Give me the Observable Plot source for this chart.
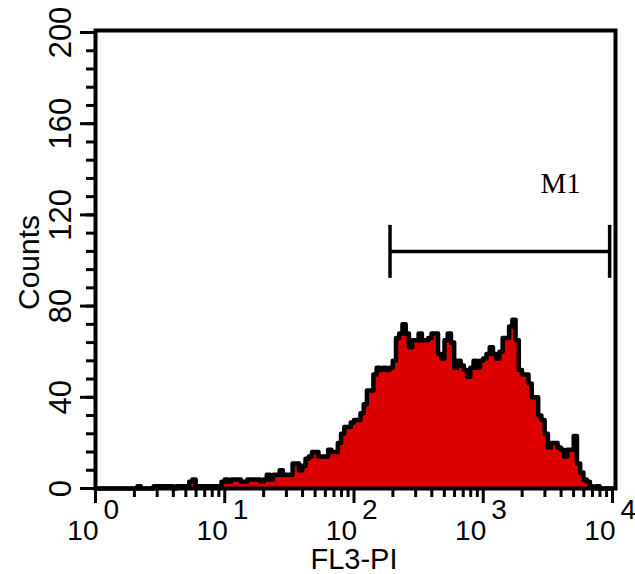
<!DOCTYPE html>
<html>
<head>
<meta charset="utf-8">
<script src="https://cdn.jsdelivr.net/npm/d3@7"></script>
<script src="https://cdn.jsdelivr.net/npm/@observablehq/plot@0.6"></script>
<style>
  html, body { margin: 0; padding: 0; background: #fff; }
  svg { display: block; }
</style>
</head>
<body>
<div id="chart"></div>
<script>
// ---- data ----
const binsPerDecade = 40; // histogram channels per decade (log display)
const counts = [
  0,0,0,0,0,0,0,0,0,0,0,0,0,
  1,
  0,0,0,0,
  1,1,1,1,1,1,
  0,
  1,1,1,1,
  3,4,
  1,1,1,1,1,1,1,1,
  3,4,3,
  4,4,4,
  3,3,
  4,4,4,4,
  3,4,6,4,
  6,6,8,
  6,6,6,
  11,11,8,10,13,14,
  16,16,14,14,14,
  17,16,16,20,24,
  27,27,29,30,30,
  33,37,43,43,50,
  53,52,53,52,53,56,
  66,68,72,68,62,
  65,65,68,65,65,
  66,68,68,59,57,
  65,68,64,53,56,
  54,52,49,53,56,
  53,56,57,59,62,
  59,57,60,66,66,
  71,74,65,52,50,
  50,46,40,40,32,
  30,24,18,20,20,
  18,17,14,17,17,
  23,11,7,4,3,
  1,0,1,0,0,0,0
];
const xDecades = [0, 1, 2, 3, 4];
const xMinorTicks = [2,3,4,5,6,7,8,9, 20,30,40,50,60,70,80,90,
  200,300,400,500,600,700,800,900, 2000,3000,4000,5000,6000,7000,8000,9000];
const yMajorTicks = [0, 40, 80, 120, 160, 200];
const yMinorTicks = [0,8,16,24,32,40,48,56,64,72,80,88,96,104,112,120,128,136,144,152,160,168,176,184,192,200];
const m1Gate = [190, 9500];   // marker M1 range (FL3 units)
const m1Level = [104];        // display level of the marker bar (counts)
const m1Label = ["M1"];
const xLabel = ["FL3-PI"];
const yLabel = ["Counts"];

const hist = counts.map((c, i) => ({x: 10 ** (i / binsPerDecade), y: c}));
hist.push({x: 10 ** (counts.length / binsPerDecade), y: counts[counts.length - 1]});

const sans = "Liberation Sans, Arial, Helvetica, sans-serif";
const serif = "Liberation Serif, Times New Roman, serif";

const chart = Plot.plot({
  width: 635,
  height: 574,
  marginLeft: 95,
  marginRight: 23,
  marginTop: 32,
  marginBottom: 86,
  style: {background: "white", color: "black", fontFamily: sans},
  x: {type: "log", domain: [1, 1e4]},
  y: {domain: [0, 200]},
  marks: [
    Plot.areaY(hist, {x: "x", y: "y", curve: "step-after", fill: "#dc0000"}),
    Plot.lineY(hist, {x: "x", y: "y", curve: "step-after", stroke: "black", strokeWidth: 4.5}),
    Plot.frame({stroke: "black", strokeWidth: 4, insetTop: -2, insetRight: -3}),
    // ticks
    Plot.axisX(xMinorTicks, {tickSize: 9, strokeWidth: 3, tickFormat: () => "", label: null}),
    Plot.axisX(xDecades.map(d => 10 ** d), {tickSize: 15, strokeWidth: 3, tickFormat: () => "", label: null}),
    Plot.axisY(yMinorTicks, {tickSize: 9, strokeWidth: 3, tickFormat: () => "", label: null}),
    Plot.axisY(yMajorTicks, {tickSize: 15, strokeWidth: 3, tickFormat: () => "", label: null}),
    // x tick labels: 10^n
    Plot.text(xDecades, {x: d => 10 ** d, text: () => "10", frameAnchor: "bottom", textAnchor: "end",
      lineAnchor: "bottom", dx: 3, dy: 51, fontSize: 28, fontFamily: sans, fill: "black", ariaLabel: "xbase"}),
    Plot.text(xDecades, {x: d => 10 ** d, text: d => String(d), frameAnchor: "bottom", textAnchor: "start",
      lineAnchor: "bottom", dx: 8, dy: 30, fontSize: 28, fontFamily: sans, fill: "black", ariaLabel: "xexp"}),
    // y tick labels
    Plot.text(yMajorTicks, {y: d => d, text: d => String(d), frameAnchor: "left", rotate: -90,
      textAnchor: "middle", lineAnchor: "bottom", dx: -25, fontSize: 31, fontFamily: sans, fill: "black", ariaLabel: "ylab"}),
    // axis titles
    Plot.text(xLabel, {text: d => d, frameAnchor: "bottom", lineAnchor: "bottom", dy: 80,
      fontSize: 29, fontFamily: sans, fill: "black"}),
    Plot.text(yLabel, {text: d => d, frameAnchor: "left", rotate: -90, textAnchor: "middle",
      lineAnchor: "bottom", dx: -57, dy: 2, fontSize: 30, fontFamily: sans, fill: "black"}),
    // M1 marker
    Plot.ruleY(m1Level, {x1: m1Gate[0], x2: m1Gate[1], stroke: "black", strokeWidth: 3.5}),
    Plot.ruleX(m1Gate, {y1: m1Level[0], y2: m1Level[0], insetTop: -26, insetBottom: -27, stroke: "black", strokeWidth: 3.5}),
    Plot.text(m1Label, {x: m1Gate[1], y: m1Level[0], text: d => d, textAnchor: "middle", lineAnchor: "bottom",
      dx: -49, dy: -58, fontSize: 29, fontFamily: serif, fill: "black"})
  ]
});

function squeeze(svg, label, sx) {
  svg.querySelectorAll(`g[aria-label="${label}"] text`).forEach(t => {
    const tr = t.getAttribute("transform");
    if (tr) {
      t.setAttribute("transform", tr + ` scale(${sx},1)`);
    } else {
      const x = t.getAttribute("x") || 0;
      t.removeAttribute("x");
      t.setAttribute("transform", `translate(${x},0) scale(${sx},1)`);
    }
  });
}
squeeze(chart, "xbase", 0.76);
squeeze(chart, "xexp", 0.7);
squeeze(chart, "ylab", 0.7);

document.getElementById("chart").appendChild(chart);
</script>
</body>
</html>
